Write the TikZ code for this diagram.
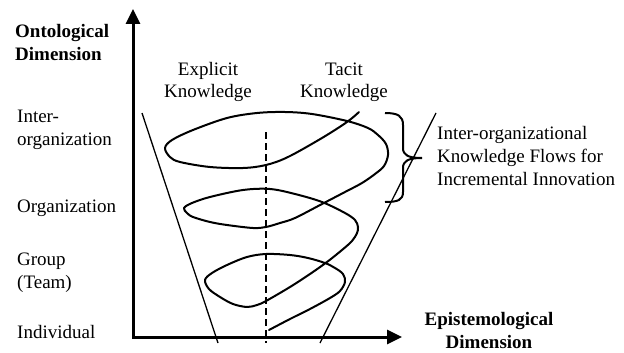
\documentclass[tikz,border=0pt]{standalone}
\usepackage{fontspec}
\setmainfont{Liberation Serif}
\usetikzlibrary{arrows.meta}
\begin{document}
\begin{tikzpicture}[x=1pt,y=-1pt,
  txt/.style={inner sep=0pt, font=\fontsize{19}{23}\selectfont},
  boldtxt/.style={txt, font=\fontsize{19}{23}\selectfont\bfseries},
  axisline/.style={line width=3pt, {Triangle[length=15pt,width=14pt]}-{Triangle[length=15pt,width=14pt]}},
  funnel/.style={line width=1.3pt},
  spiral/.style={line width=2pt, line cap=round, line join=round},
  divider/.style={line width=2.3pt, dash pattern=on 7pt off 4pt},
  bracestyle/.style={line width=2pt}]
\useasboundingbox (0,0) rectangle (624,353);

% axes
\coordinate (ytop) at (133,9);
\coordinate (origin) at (133,337);
\coordinate (xend) at (402,337);
\draw[axisline] (ytop) -- (origin) -- (xend);

% funnel
\coordinate (fl1) at (142,113);
\coordinate (fl2) at (218,343);
\coordinate (fr1) at (436,113);
\coordinate (fr2) at (320,343);
\draw[funnel] (fl1) -- (fl2);
\draw[funnel] (fr1) -- (fr2);

% dashed divider
\coordinate (d1) at (266,132);
\coordinate (d2) at (266,343);
\draw[divider] (d1) -- (d2);

% spiral
\draw[spiral] plot[smooth, tension=0.55] coordinates {
 (269,330) (290,319) (310,309) (330,298) (340,291) (345,282) (343,274) (335,268)
 (325,263) (308,258) (290,255) (266,254) (247,257) (227,265) (212,273) (205,280)
 (209,289) (220,297) (233,304) (247,307) (257,305) (266,301) (290,287) (310,274)
 (327,262) (342,250) (352,241) (357,233) (358,227) (355,220) (345,213) (322,202)
 (295,194) (270,189) (243,190) (210,197) (192,203) (184,208) (187,213)
 (193,217) (210,222) (227,225) (253,228) (266,227) (280,223) (295,218) (322,204)
 (345,192) (362,183) (375,174) (384,166) (388,155) (386,144) (378,135) (368,128)
 (347,121) (312,114) (285,112) (257,113) (227,118) (193,130) (172,140) (165,148)
 (170,157) (180,162) (210,167) (243,168) (266,165) (288,157) (322,138) (347,122)
 (359,112)};

% brace
\draw[bracestyle] (385,113) .. controls (398,113) and (403,116) .. (403,125) -- (403,148)
  .. controls (403,155) and (408,158) .. (422,158);
\draw[bracestyle] (422,158) .. controls (408,158) and (403,161) .. (403,168) -- (403,192)
  .. controls (403,200) and (398,202) .. (385,202);

% labels (base anchor of a multi-line node = baseline of its last line)
\node[boldtxt, align=left, anchor=base west] (ont) at (15,60) {Ontological\\Dimension};
\node[boldtxt, align=center, anchor=base] (epi) at (489,348) {Epistemological\\Dimension};
\node[txt, align=center, anchor=base] (expl) at (208,98) {Explicit\\Knowledge};
\node[txt, align=center, anchor=base] (tac) at (344,98) {Tacit\\Knowledge};
\node[txt, align=left, anchor=base west] (interorg) at (17,145) {Inter-\\organization};
\node[txt, anchor=base west] (org) at (17,212) {Organization};
\node[txt, align=left, anchor=base west] (grp) at (17,288) {Group\\(Team)};
\node[txt, anchor=base west] (ind) at (17,338) {Individual};
\node[txt, align=left, anchor=base west] (flows) at (437,185) {Inter-organizational\\Knowledge Flows for\\Incremental Innovation};
\end{tikzpicture}
\end{document}
